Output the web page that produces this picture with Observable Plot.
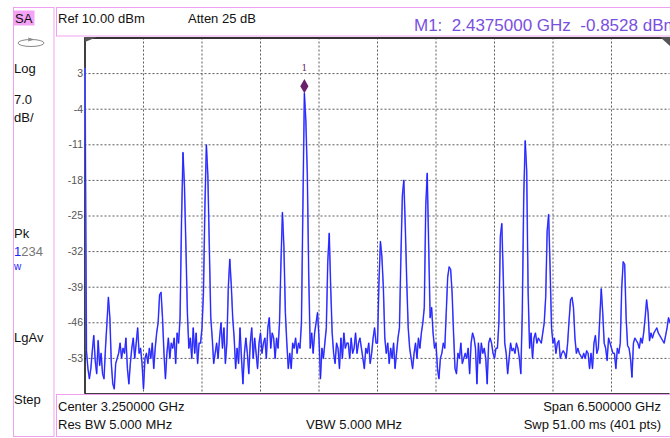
<!DOCTYPE html>
<html><head><meta charset="utf-8">
<script src="https://cdn.jsdelivr.net/npm/d3@7"></script>
<script src="https://cdn.jsdelivr.net/npm/@observablehq/plot@0.6"></script>
<style>
body{margin:0;background:#fff;}
#wrap{position:relative;width:670px;height:438px;overflow:hidden;background:#fff;}
#wrap svg.ov{position:absolute;left:0;top:0;}
#chart{position:absolute;left:0;top:0;}
</style></head><body>
<div id="wrap"><div id="chart"></div></div>
<script>
// Sweep parameters (from the instrument annotations)
const startGHz = 0;
const spanGHz = 6.5;
const nPts = 401;
// Trace amplitude (dBm), one value per sweep point
const traceDbm = [
  4, -51.5, -55, -57, -55, -51.5, -48.5, -53.5, -56, -49.5,
  -54.4, -52, -56, -57, -51, -46, -41, -45, -54, -58,
  -59, -54, -53, -52, -50, -53, -51, -52, -49, -55,
  -58, -54, -51, -49, -53, -50, -47, -52, -51, -54,
  -59, -53, -52, -54, -51, -53, -50, -55, -51, -48,
  -46, -40.5, -40, -45, -52, -57, -52, -49, -53, -50,
  -51, -49, -54, -48, -50, -45, -26, -12.5, -19, -31,
  -44, -51, -49, -53, -47, -52, -48, -54, -50, -50,
  -47, -40, -23, -11, -17, -31, -45, -49, -54, -52,
  -50, -53, -49, -46, -51, -47, -54, -50, -39, -33.5,
  -38.5, -45, -49, -55, -51, -54, -47, -53, -58, -52,
  -49, -52, -56, -50, -47, -53, -49, -52, -55, -50,
  -48, -52, -50, -49, -53, -47, -45, -51, -48, -49,
  -53, -49, -51, -46, -34, -24.3, -31, -44, -50, -55,
  -52, -55, -50, -51, -49, -52, -50, -51, -46, -23,
  -0.8528, -6.2, -16.6, -37, -51, -48, -52, -48, -46, -44,
  -49, -57, -51, -53, -50, -47, -34, -28.4, -39, -48,
  -52, -54, -50, -51, -55, -49, -53, -48, -51, -50,
  -50, -53, -49, -52, -51, -48, -52, -50, -49, -51,
  -53, -55, -51, -52, -50, -54, -52, -49, -47, -50,
  -50, -38, -30, -33, -39, -49, -52, -50, -54, -51,
  -53, -50, -55, -52, -49, -47, -33, -21, -18, -27,
  -38, -47, -51, -53, -55, -52, -50, -53, -49, -51,
  -48, -46, -43, -23, -16.6, -31, -45, -43, -48, -51,
  -50, -55, -57, -53, -52, -50, -51, -44, -37, -35,
  -35.5, -40, -48, -55, -56, -52, -53, -50, -54, -53,
  -52, -53, -51, -56, -50, -48, -49, -51, -58, -50,
  -54, -50, -52, -51, -53, -58, -50, -49, -50, -52,
  -53, -51, -51, -46, -29, -26.5, -37, -50, -52, -56,
  -53, -50, -51.5, -51, -52, -50, -51, -53, -56, -44,
  -21, -10.2, -16, -40, -51, -48, -53, -49, -48, -50,
  -49, -49.5, -50, -48, -46, -41, -28, -24.7, -35, -47,
  -50, -49, -52, -50, -49.5, -53, -52, -51.5, -52, -53,
  -50, -45.5, -41.5, -41, -43, -49, -52, -51, -52, -52.5,
  -53, -52, -53, -51.5, -52, -55, -52, -55, -50, -48.5,
  -52, -51, -45, -39.3, -44, -50, -51, -53.4, -49, -50,
  -51, -52, -52, -55, -51, -52, -50, -39, -34, -34.5,
  -45, -50.5, -51, -53, -56.7, -50, -49, -49.5, -50, -51,
  -49, -50, -48, -45, -41.5, -44, -49.5, -48, -49, -48,
  -47.5, -47, -48, -48.5, -49, -49.5, -50, -48.5, -47, -45,
  -46
];
const yTicks = [3, -4, -11, -18, -25, -32, -39, -46, -53];
const yDomain = [-60, 10];
const xGrid = [0.65, 1.3, 1.95, 2.6, 3.25, 3.9, 4.55, 5.2, 5.85];
const markerF = [2.4375];
const markerV = [-0.8528];
const markerLabel = ["1"];

const data = traceDbm.map((v, i) => ({f: startGHz + i * spanGHz / (nPts - 1), v}));
const markers = markerF.map((f, i) => ({f, v: markerV[i], label: markerLabel[i]}));

const chart = Plot.plot({
  width: 670, height: 438,
  marginLeft: 84.5, marginRight: 0.5, marginTop: 37.5, marginBottom: 44.5,
  x: {domain: [startGHz, startGHz + spanGHz], axis: null},
  y: {domain: yDomain, axis: null, label: null},
  style: {background: "transparent", fontFamily: "'Liberation Sans', Arial, sans-serif"},
  marks: [
    Plot.ruleX(xGrid, {stroke: "#5a5a5a", strokeDasharray: "2,2", strokeWidth: 1}),
    Plot.ruleY(yTicks, {stroke: "#5a5a5a", strokeDasharray: "2,2", strokeWidth: 1}),
    Plot.axisY(yTicks, {tickSize: 0, tickPadding: 2, fontSize: 10.5, fill: "#555", label: null, tickFormat: d => String(d)}),
    Plot.ruleX([startGHz], {stroke: "#000", strokeWidth: 1.5}),
    Plot.ruleY([yDomain[0]], {stroke: "#000", strokeWidth: 1.5}),
    Plot.ruleY([yDomain[1]], {stroke: "#333", strokeWidth: 2}),
    Plot.line(data, {x: "f", y: "v", stroke: "#7a7aff", strokeWidth: 1.6}),
    Plot.line(data, {x: "f", y: "v", stroke: "#1a1aff", strokeWidth: 0.9}),
    Plot.dot(markers, {x: "f", y: "v", symbol: "diamond", r: 4.3, fill: "#6b1f6b", stroke: "none", dy: -7}),
    Plot.text(markers, {x: "f", y: "v", text: "label", dy: -25, fill: "#6b1f6b", fontSize: 9, fontFamily: "'DejaVu Serif', serif"})
  ]
});
document.getElementById("chart").appendChild(chart);

// Instrument screen annotations overlay
const pink = "#f0a0f0";
const ov = d3.select("#wrap").append("svg").attr("class", "ov")
  .attr("width", 670).attr("height", 438)
  .style("font-family", "'Liberation Sans', Arial, sans-serif");
ov.append("rect").attr("x", 13.5).attr("y", 7.5).attr("width", 40.5).attr("height", 429).attr("fill", "none").attr("stroke", pink);
ov.append("rect").attr("x", 13.5).attr("y", 10.5).attr("width", 21).attr("height", 15).attr("fill", "#f5a3f5");
ov.append("rect").attr("x", 56.5).attr("y", 7.5).attr("width", 630).attr("height", 28.5).attr("fill", "none").attr("stroke", pink);
ov.append("rect").attr("x", 56.5).attr("y", 394.5).attr("width", 630).attr("height", 42).attr("fill", "none").attr("stroke", pink);
// corner markers
ov.append("path").attr("d", "M85,37 L97,37 L85,42 Z").attr("fill", "#555");
ov.append("path").attr("d", "M660,37 L670,37 L670,46 Z").attr("fill", "#555");
// sweep icon
ov.append("ellipse").attr("cx", 31).attr("cy", 43).attr("rx", 13).attr("ry", 3.5).attr("fill", "none").attr("stroke", "#888");
ov.append("path").attr("d", "M28,38 L33,39.5 L28,41").attr("fill", "none").attr("stroke", "#888");

function txt(x, y, s, opts = {}) {
  return ov.append("text").attr("x", x).attr("y", y).text(s)
    .attr("font-size", opts.size || 13).attr("fill", opts.fill || "#111")
    .attr("text-anchor", opts.anchor || "start").style("white-space", "pre");
}
txt(15, 23, "SA");
txt(14, 73, "Log");
txt(14, 104, "7.0");
txt(14, 122, "dB/");
txt(14, 238, "Pk");
const t1234 = ov.append("text").attr("x", 14).attr("y", 256).attr("font-size", 13).attr("fill", "#777");
t1234.append("tspan").attr("fill", "#2020ff").text("1");
t1234.append("tspan").text("234");
txt(14, 270, "w", {fill: "#2020ff", size: 10});
txt(14, 342, "LgAv");
txt(14, 404, "Step");
txt(58, 23, "Ref 10.00 dBm");
txt(188, 23, "Atten 25 dB");
txt(414, 31, "M1:  2.4375000 GHz  -0.8528 dBm", {fill: "#7a4fe0", size: 17});
txt(58, 411, "Center 3.250000 GHz");
txt(58, 429, "Res BW 5.000 MHz");
txt(306, 429, "VBW 5.000 MHz");
txt(661, 411, "Span 6.500000 GHz", {anchor: "end"});
txt(661, 429, "Swp 51.00 ms (401 pts)", {anchor: "end"});
</script>
</body></html>
